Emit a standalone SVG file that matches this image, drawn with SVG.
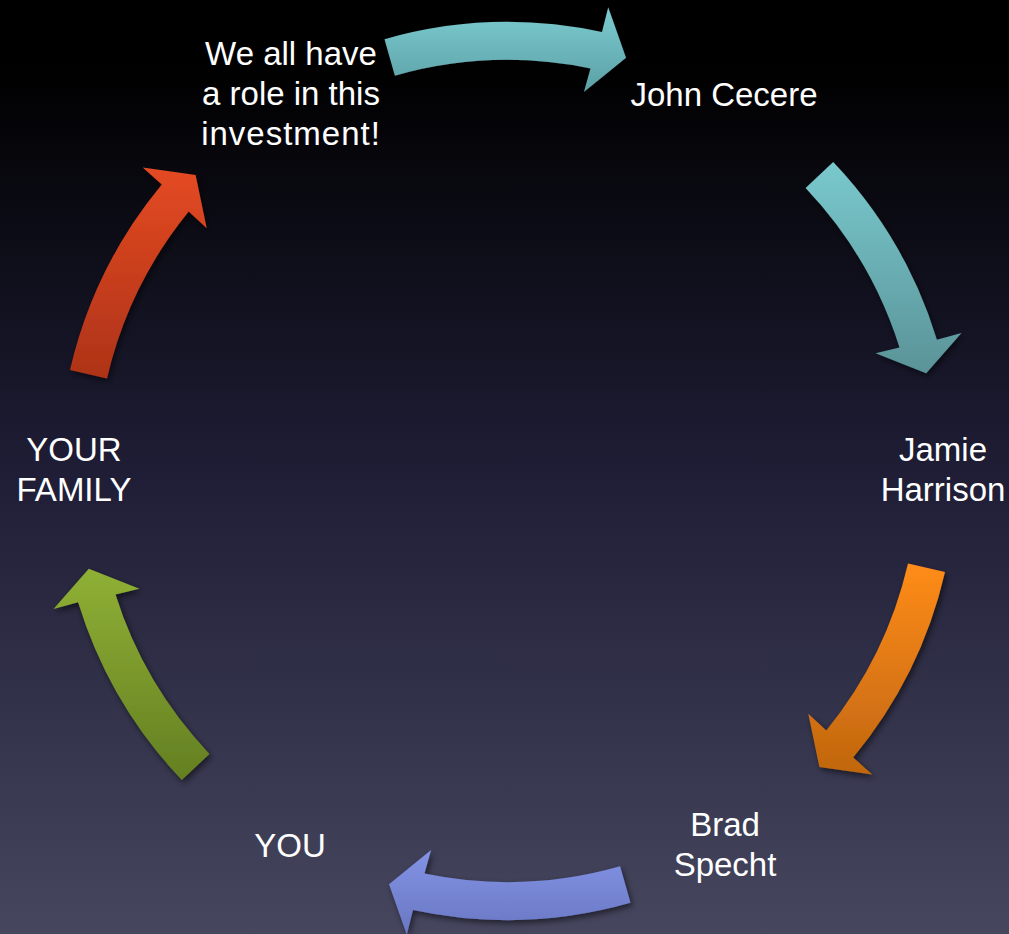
<svg xmlns="http://www.w3.org/2000/svg" width="1009" height="934" viewBox="0 0 1009 934">
  <defs>
    <linearGradient id="bg" x1="0" y1="0" x2="0" y2="1">
      <stop offset="0" stop-color="#000000"/>
      <stop offset="0.07" stop-color="#000000"/>
      <stop offset="0.5" stop-color="#1e1d35"/>
      <stop offset="1" stop-color="#46465f"/>
    </linearGradient>
    <linearGradient id="gTeal1" x1="0" y1="0" x2="0" y2="1">
      <stop offset="0" stop-color="#7bcbd0"/>
      <stop offset="1" stop-color="#5ca0a5"/>
    </linearGradient>
    <linearGradient id="gTeal2" x1="0" y1="0" x2="0" y2="1">
      <stop offset="0" stop-color="#79c9cd"/>
      <stop offset="1" stop-color="#5a9398"/>
    </linearGradient>
    <linearGradient id="gOrange" x1="0" y1="0" x2="0" y2="1">
      <stop offset="0" stop-color="#ff8c1a"/>
      <stop offset="1" stop-color="#c0660f"/>
    </linearGradient>
    <linearGradient id="gBlue" x1="0" y1="0" x2="0" y2="1">
      <stop offset="0" stop-color="#8393e5"/>
      <stop offset="1" stop-color="#6977c2"/>
    </linearGradient>
    <linearGradient id="gGreen" x1="0" y1="0" x2="0" y2="1">
      <stop offset="0" stop-color="#8fb035"/>
      <stop offset="1" stop-color="#647f22"/>
    </linearGradient>
    <linearGradient id="gRed" x1="0" y1="0" x2="0" y2="1">
      <stop offset="0" stop-color="#e44a22"/>
      <stop offset="1" stop-color="#ad3318"/>
    </linearGradient>
    <filter id="shadow" x="-20%" y="-20%" width="140%" height="140%">
      <feDropShadow dx="2" dy="3" stdDeviation="3" flood-color="#000000" flood-opacity="0.55"/>
    </filter>
  </defs>
  <style>
    .lbl { font-family: "Liberation Sans", Arial, sans-serif; font-size: 33px; fill: #ffffff; text-anchor: middle; }
    .arrow { filter: url(#shadow); }
  </style>

  <rect x="0" y="0" width="1009" height="934" fill="url(#bg)"/>

  <g id="connectors">
    <path class="arrow" fill="url(#gTeal1)" d="M384.5,39.2 A449,449 0 0 1 602.0,32.1 L608.2,7.3 L626.0,57.7 L583.9,92.1 L590.5,68.5 A411,411 0 0 0 394.9,75.7 Z"/>
    <path class="arrow" fill="url(#gTeal2)" d="M833.2,161.9 A449,449 0 0 1 936.9,339.7 L961.5,333.1 L926.2,373.2 L875.6,353.2 L899.5,347.4 A411,411 0 0 0 805.6,188.1 Z"/>
    <path class="arrow" fill="url(#gOrange)" d="M945.0,572.0 A449,449 0 0 1 853.2,757.5 L872.3,774.4 L819.4,767.0 L808.3,713.7 L826.3,730.4 A411,411 0 0 0 908.0,563.5 Z"/>
    <path class="arrow" fill="url(#gBlue)" d="M630.5,902.8 A449,449 0 0 1 413.0,909.9 L406.8,934.7 L389.0,884.3 L431.1,849.9 L424.5,873.5 A411,411 0 0 0 620.1,866.3 Z"/>
    <path class="arrow" fill="url(#gGreen)" d="M181.8,780.1 A449,449 0 0 1 78.1,602.3 L53.5,608.9 L88.8,568.8 L139.4,588.8 L115.5,594.6 A411,411 0 0 0 209.4,753.9 Z"/>
    <path class="arrow" fill="url(#gRed)" d="M70.0,370.0 A449,449 0 0 1 161.8,184.5 L142.7,167.6 L195.6,175.0 L206.7,228.3 L188.7,211.6 A411,411 0 0 0 107.0,378.5 Z"/>
  </g>

  <g id="node-intro">
    <text class="lbl" x="291" y="65"><tspan x="291" y="65">We all have</tspan><tspan x="291" y="105">a role in this</tspan><tspan x="291" y="145" letter-spacing="1">investment!</tspan></text>
  </g>
  <g id="node-john">
    <text class="lbl" x="724" y="106">John Cecere</text>
  </g>
  <g id="node-jamie">
    <text class="lbl" x="943" y="461"><tspan x="943" y="461">Jamie</tspan><tspan x="943" y="501">Harrison</tspan></text>
  </g>
  <g id="node-brad">
    <text class="lbl" x="725" y="836"><tspan x="725" y="836">Brad</tspan><tspan x="725" y="876">Specht</tspan></text>
  </g>
  <g id="node-you">
    <text class="lbl" x="290" y="857">YOU</text>
  </g>
  <g id="node-family">
    <text class="lbl" x="74" y="461"><tspan x="74" y="461">YOUR</tspan><tspan x="74" y="501">FAMILY</tspan></text>
  </g>
</svg>
